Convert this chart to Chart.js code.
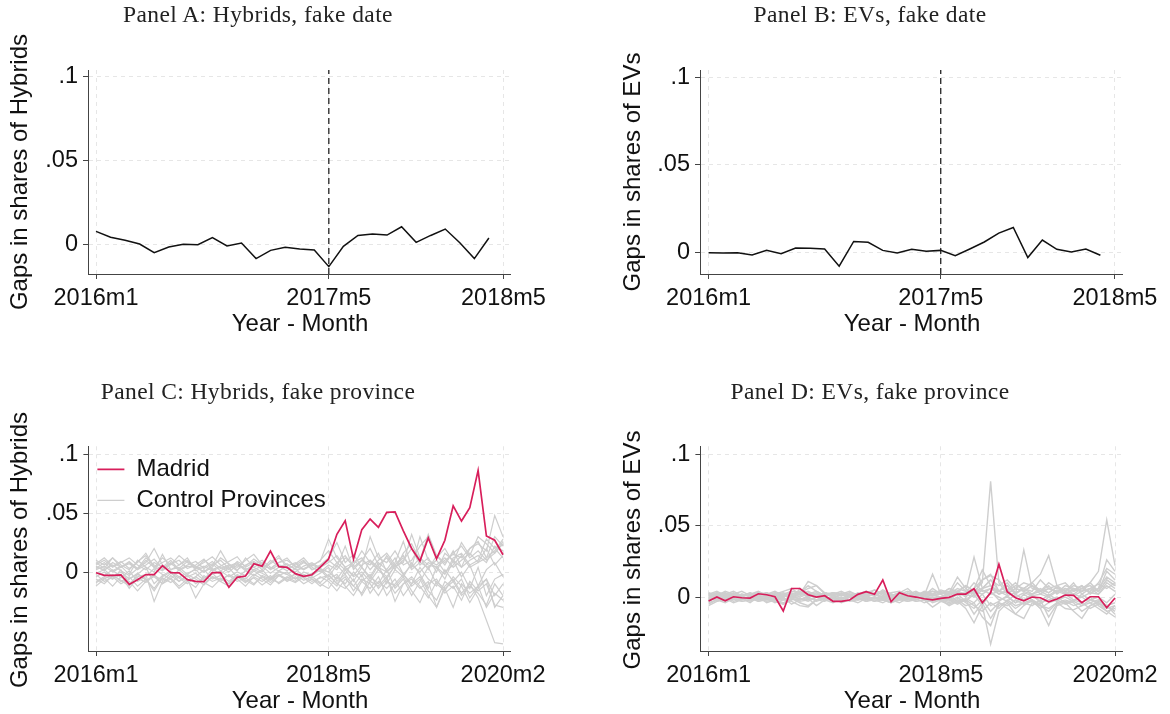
<!DOCTYPE html>
<html><head><meta charset="utf-8">
<script src="https://cdn.jsdelivr.net/npm/chart.js@4"></script>
<style>
html,body{margin:0;padding:0;background:#fff;}
#wrap{position:relative;width:1170px;height:714px;overflow:hidden;background:#fff;}
canvas{position:absolute;}
.t{position:absolute;white-space:nowrap;transform:translate(-50%,-50%);line-height:1;}
.title{font-family:'Liberation Serif','Times New Roman',serif;font-size:23.5px;letter-spacing:0.4px;color:#222;}
.ax{font-family:'Liberation Sans',Arial,sans-serif;font-size:24px;color:#111;}
.rot{transform:translate(-50%,-50%) rotate(-90deg);}
</style></head><body>
<div id="wrap">
<canvas id="cA"></canvas><canvas id="cB"></canvas><canvas id="cC"></canvas><canvas id="cD"></canvas>
<div class="t title" style="left:258px;top:15px">Panel A: Hybrids, fake date</div>
<div class="t title" style="left:870px;top:15px">Panel B: EVs, fake date</div>
<div class="t title" style="left:258px;top:392px">Panel C: Hybrids, fake province</div>
<div class="t title" style="left:870px;top:392px">Panel D: EVs, fake province</div>
<div class="t ax rot" style="left:19px;top:172px">Gaps in shares of Hybrids</div>
<div class="t ax rot" style="left:632px;top:172px">Gaps in shares of EVs</div>
<div class="t ax rot" style="left:19px;top:550px">Gaps in shares of Hybrids</div>
<div class="t ax rot" style="left:632px;top:550px">Gaps in shares of EVs</div>
<div class="t ax" style="left:300px;top:323px">Year - Month</div>
<div class="t ax" style="left:912px;top:323px">Year - Month</div>
<div class="t ax" style="left:300px;top:700px">Year - Month</div>
<div class="t ax" style="left:912px;top:700px">Year - Month</div>
</div>
<script>
// ---------------- DATA ----------------
const xTickLabelsAB = ['2016m1', '2017m5', '2018m5'];
const xTickLabelsCD = ['2016m1', '2018m5', '2020m2'];
const yTickValues = [0, 0.05, 0.1];
const yTickLabels = ['0', '.05', '.1'];
const fakeTreatmentMonth = '2017m5';

// Panel A: gap in hybrid share, monthly from 2016m1 (28 months)
const panelA_hybridGap = [0.0077, 0.0042, 0.0024, 0.0002, -0.0050, -0.0016, 0.0000, -0.0002, 0.0040, -0.0010,
  0.0008, -0.0085, -0.0036, -0.0018, -0.0028, -0.0034, -0.0133, -0.0012, 0.0053, 0.0061,
  0.0055, 0.0105, 0.0012, 0.0053, 0.0091, 0.0010, -0.0085, 0.0038];

// Panel B: gap in EV share, monthly from 2016m1 (28 months)
const panelB_evGap = [-0.0002, -0.0004, -0.0002, -0.0015, 0.0011, -0.0008, 0.0025, 0.0023, 0.0019, -0.0079,
  0.0062, 0.0057, 0.0011, -0.0004, 0.0017, 0.0006, 0.0011, -0.0019, 0.0019, 0.0059,
  0.0110, 0.0142, -0.0030, 0.0070, 0.0017, 0.0002, 0.0019, -0.0017];

// Panel C: Madrid hybrid gap, monthly from 2016m1 to 2020m2 (50 months)
const panelC_madrid = [-0.0006, -0.0028, -0.0028, -0.0025, -0.0105, -0.0065, -0.0022, -0.0022, 0.0054, -0.0006,
  -0.0008, -0.0065, -0.0079, -0.0082, -0.0006, -0.0006, -0.0130, -0.0045, -0.0034, 0.0070,
  0.0050, 0.0178, 0.0045, 0.0040, -0.0014, -0.0037, -0.0023, 0.0042, 0.0110, 0.0320,
  0.0436, 0.0110, 0.0360, 0.0450, 0.0380, 0.0507, 0.0510, 0.0350, 0.0200, 0.0093,
  0.0290, 0.0113, 0.0270, 0.0563, 0.0433, 0.0546, 0.0863, 0.0306, 0.0270, 0.0147];

// Panel C: control provinces (placebo gaps)
const panelC_controls = [
 [0.004, 0.002, 0.006, 0.001, -0.003, 0.003, 0.008, 0.020, 0.006, 0.002,
  0.004, -0.002, 0.003, 0.005, 0.001, 0.004, 0.000, 0.006, 0.003, 0.002,
  0.005, -0.001, 0.004, 0.007, 0.002, 0.003, 0.006, 0.009, 0.028, 0.012,
  0.004, -0.003, 0.006, 0.010, 0.002, -0.004, 0.005, 0.008, 0.032, 0.012,
  0.006, 0.004, 0.010, 0.015, 0.012, 0.020, 0.024, 0.018, 0.048, 0.030],
 [-0.008, -0.004, -0.006, 0.002, -0.010, -0.004, -0.002, -0.025, -0.008, -0.005,
  -0.012, -0.006, -0.022, -0.010, -0.004, -0.006, -0.003, -0.008, -0.005, -0.010,
  -0.004, -0.007, -0.002, -0.006, -0.009, -0.004, -0.008, -0.005, -0.003, -0.010,
  -0.014, -0.006, -0.020, -0.008, -0.012, -0.004, -0.025, -0.010, -0.006, -0.014,
  -0.008, -0.030, -0.012, -0.006, -0.018, -0.010, -0.022, -0.041, -0.060, -0.061],
 [0.010, 0.006, 0.012, 0.004, 0.008, 0.002, 0.010, 0.004, 0.012, 0.006,
  0.014, 0.008, 0.003, 0.010, 0.005, 0.018, 0.006, 0.004, 0.010, 0.015,
  0.006, 0.003, 0.008, 0.012, 0.004, 0.009, 0.002, 0.006, 0.012, 0.025,
  0.008, 0.015, 0.004, 0.030, 0.012, 0.008, 0.018, 0.006, 0.010, 0.022,
  0.030, 0.012, 0.020, 0.008, 0.025, 0.014, 0.030, 0.024, 0.016, 0.026],
 [0.000, -0.003, 0.002, -0.005, 0.001, -0.008, -0.004, 0.003, -0.002, -0.006,
  0.002, -0.004, -0.001, -0.007, 0.003, -0.002, 0.004, -0.005, 0.001, -0.003,
  0.002, -0.006, 0.000, -0.002, 0.003, -0.004, -0.001, 0.002, -0.006, -0.012,
  0.002, -0.008, 0.004, -0.006, 0.006, -0.010, 0.002, -0.004, 0.008, -0.002,
  -0.014, 0.004, -0.006, 0.010, -0.004, 0.006, -0.012, 0.002, 0.008, -0.004],
 [0.006, 0.010, 0.004, 0.008, 0.012, 0.006, 0.002, 0.008, 0.004, 0.010,
  0.002, 0.006, 0.009, 0.003, 0.007, 0.001, 0.005, 0.008, 0.002, 0.006,
  0.010, 0.004, 0.001, 0.005, 0.008, 0.002, 0.006, 0.003, -0.004, 0.006,
  -0.002, 0.010, 0.004, -0.004, 0.008, 0.002, 0.012, -0.002, 0.006, 0.000,
  0.008, 0.004, -0.002, 0.012, 0.016, 0.006, 0.010, 0.028, 0.020, 0.012],
 [-0.012, -0.006, -0.002, -0.008, -0.004, -0.012, -0.006, -0.014, -0.004, 0.000,
  -0.008, -0.003, -0.010, -0.005, -0.001, -0.008, -0.012, -0.004, -0.009, -0.002,
  -0.006, -0.011, -0.003, -0.007, -0.001, -0.005, -0.010, -0.004, -0.008, -0.016,
  -0.006, -0.012, -0.002, -0.018, -0.008, -0.014, -0.006, -0.020, -0.010, -0.004,
  -0.016, -0.024, -0.008, -0.014, -0.006, -0.022, -0.012, -0.030, -0.018, -0.024],
 [0.003, 0.008, 0.001, 0.005, -0.002, 0.010, 0.004, 0.000, 0.015, 0.002,
  0.006, 0.012, 0.001, 0.004, 0.009, 0.003, 0.006, 0.001, 0.012, 0.004,
  0.000, 0.008, 0.014, 0.003, 0.006, 0.010, 0.002, 0.005, 0.010, 0.004,
  0.022, 0.002, 0.010, 0.006, 0.016, 0.000, 0.008, 0.026, 0.004, 0.012,
  0.002, 0.014, 0.006, 0.018, 0.004, 0.010, 0.014, 0.008, 0.022, 0.018],
 [-0.004, 0.000, -0.006, -0.002, -0.014, -0.005, -0.009, -0.003, -0.007, -0.001,
  -0.005, -0.010, -0.004, 0.002, -0.006, -0.003, -0.008, -0.002, -0.006, 0.001,
  -0.004, -0.009, -0.003, 0.000, -0.006, -0.002, -0.005, -0.001, 0.004, -0.008,
  -0.002, -0.012, -0.018, -0.004, -0.010, 0.002, -0.014, -0.006, -0.020, -0.008,
  0.004, -0.010, -0.016, -0.004, -0.012, -0.026, -0.014, -0.006, -0.020, -0.010],
 [0.008, 0.003, 0.012, 0.006, 0.002, 0.009, 0.014, 0.004, 0.001, 0.007,
  0.010, 0.003, 0.006, 0.011, 0.002, 0.005, 0.009, 0.013, 0.004, 0.008,
  0.002, 0.010, 0.005, 0.001, 0.007, 0.012, 0.004, 0.000, 0.006, 0.002,
  0.012, 0.006, 0.018, 0.008, 0.002, 0.014, 0.004, 0.010, 0.020, 0.006,
  0.012, 0.000, 0.016, 0.010, 0.004, 0.020, 0.026, 0.012, 0.018, 0.028],
 [-0.002, -0.008, -0.004, -0.010, -0.006, -0.001, -0.007, -0.004, -0.010, -0.003,
  -0.008, -0.002, -0.006, -0.011, -0.004, -0.008, -0.002, -0.006, -0.012, -0.004,
  -0.008, -0.003, -0.010, -0.005, -0.002, -0.007, -0.004, -0.009, -0.002, -0.010,
  -0.004, -0.016, -0.006, -0.010, -0.020, -0.008, -0.012, -0.004, -0.016, -0.026,
  -0.010, -0.006, -0.018, -0.012, -0.024, -0.008, -0.016, -0.010, -0.028, -0.030],
 [0.002, 0.005, 0.000, 0.004, 0.007, 0.002, 0.006, 0.011, 0.003, 0.008,
  0.001, 0.005, 0.004, 0.000, 0.006, 0.010, 0.003, 0.007, 0.001, 0.004,
  0.008, 0.002, 0.006, 0.004, 0.000, 0.005, 0.008, 0.003, 0.000, 0.008,
  0.002, 0.006, -0.004, 0.010, 0.004, 0.000, 0.006, 0.014, 0.002, 0.008,
  0.004, 0.010, 0.000, 0.006, 0.014, 0.004, 0.008, 0.012, 0.030, 0.022],
 [-0.006, -0.010, -0.003, -0.007, -0.012, -0.002, -0.006, -0.016, -0.005, -0.009,
  -0.004, -0.008, -0.013, -0.003, -0.008, -0.005, -0.010, -0.004, -0.007, -0.011,
  -0.003, -0.006, -0.009, -0.004, -0.008, -0.002, -0.006, -0.010, -0.014, -0.004,
  -0.010, 0.000, -0.008, -0.014, -0.004, -0.020, -0.010, -0.002, -0.012, -0.006,
  -0.020, -0.030, -0.014, -0.008, -0.020, -0.012, -0.018, -0.028, -0.010, -0.020],
 [0.005, 0.001, 0.008, 0.004, 0.009, 0.003, 0.012, 0.006, 0.002, 0.007,
  0.003, 0.009, 0.005, 0.000, 0.004, 0.012, 0.007, 0.002, 0.006, 0.009,
  0.004, 0.007, 0.012, 0.006, 0.003, 0.008, 0.005, 0.010, 0.018, 0.008,
  0.014, 0.004, 0.010, 0.020, 0.006, 0.012, 0.002, 0.016, 0.024, 0.010,
  0.032, 0.014, 0.008, 0.016, 0.022, 0.012, 0.018, 0.010, 0.016, 0.024],
 [-0.001, 0.002, -0.004, 0.000, -0.006, -0.002, 0.004, -0.010, -0.003, 0.001,
  -0.004, -0.001, 0.002, -0.005, -0.002, 0.001, -0.004, 0.000, -0.003, 0.002,
  -0.001, -0.005, 0.001, -0.002, -0.006, 0.000, -0.003, 0.002, 0.000, -0.006,
  0.004, -0.004, 0.000, -0.008, 0.002, -0.006, 0.006, -0.002, -0.010, 0.004,
  -0.006, -0.012, 0.002, -0.008, 0.000, -0.014, 0.004, -0.020, -0.006, -0.002],
 [0.007, 0.012, 0.005, 0.009, 0.003, 0.008, 0.016, 0.004, 0.008, 0.012,
  0.006, 0.010, 0.004, 0.008, 0.013, 0.006, 0.002, 0.009, 0.005, 0.011,
  0.006, 0.003, 0.008, 0.010, 0.005, 0.002, 0.007, 0.004, 0.008, 0.014,
  0.004, 0.008, 0.012, 0.002, 0.010, 0.016, 0.006, 0.012, 0.004, 0.030,
  0.010, 0.006, 0.012, 0.004, 0.010, 0.016, 0.008, 0.020, 0.006, 0.014],
 [-0.009, -0.005, -0.012, -0.004, -0.008, -0.016, -0.008, -0.002, -0.010, -0.006,
  -0.014, -0.008, -0.004, -0.009, -0.013, -0.006, -0.010, -0.003, -0.008, -0.005,
  -0.011, -0.006, -0.002, -0.008, -0.004, -0.010, -0.006, -0.012, -0.006, -0.002,
  -0.012, -0.020, -0.008, -0.002, -0.014, -0.006, -0.018, -0.010, -0.004, -0.012,
  -0.022, -0.008, -0.014, -0.030, -0.010, -0.018, -0.012, -0.006, -0.030, -0.020]
];

// Panel D: Madrid EV gap, monthly from 2016m1 to 2020m2 (50 months)
const panelD_madrid = [-0.0028, 0.0000, -0.0026, 0.0002, -0.0005, -0.0007, 0.0023, 0.0016, 0.0002, -0.0098,
  0.0060, 0.0060, 0.0016, 0.0000, 0.0009, -0.0030, -0.0030, -0.0021, 0.0019, 0.0037,
  0.0019, 0.0119, -0.0033, 0.0030, 0.0009, 0.0000, -0.0012, -0.0020, -0.0009, -0.0002,
  0.0021, 0.0021, 0.0058, -0.0040, 0.0030, 0.0230, 0.0037, -0.0005, -0.0026, 0.0000,
  -0.0005, -0.0033, -0.0014, 0.0014, 0.0012, -0.0040, 0.0002, 0.0002, -0.0075, -0.0007];

// Panel D: control provinces (placebo gaps)
const panelD_controls = [
 [0.002, 0.000, 0.003, -0.001, 0.002, 0.001, -0.002, 0.003, 0.000, 0.002,
  -0.001, 0.004, 0.002, 0.000, 0.003, 0.001, -0.001, 0.002, 0.000, 0.003,
  0.001, 0.004, -0.001, 0.002, 0.000, 0.003, 0.001, 0.004, 0.002, 0.006,
  0.003, 0.008, 0.004, 0.010, 0.081, 0.010, 0.002, 0.006, 0.004, 0.008,
  0.002, 0.006, 0.004, 0.002, 0.006, 0.004, 0.010, 0.018, 0.054, 0.022],
 [-0.004, -0.002, 0.000, -0.003, -0.001, -0.004, 0.000, -0.002, -0.003, -0.005,
  -0.001, -0.004, -0.006, -0.002, -0.003, 0.000, -0.004, -0.002, -0.001, -0.003,
  0.000, -0.002, -0.004, -0.001, -0.003, -0.002, 0.000, -0.004, -0.002, -0.006,
  -0.003, -0.008, -0.018, -0.006, -0.033, -0.010, -0.004, -0.012, -0.006, -0.002,
  -0.008, -0.020, -0.006, -0.004, -0.010, -0.015, -0.006, -0.004, -0.010, -0.014],
 [0.001, 0.003, 0.000, 0.002, 0.004, 0.001, 0.003, 0.000, 0.002, 0.004,
  0.006, 0.002, 0.011, 0.008, 0.002, 0.001, 0.003, 0.000, 0.002, 0.004,
  0.001, 0.005, 0.002, 0.000, 0.003, 0.001, 0.004, 0.002, 0.004, 0.002,
  0.010, 0.004, 0.028, 0.006, 0.012, 0.004, 0.008, 0.002, 0.033, 0.006,
  0.004, 0.008, 0.002, 0.006, 0.004, 0.008, 0.002, 0.006, 0.026, 0.018],
 [-0.002, 0.001, -0.001, 0.002, 0.000, -0.002, 0.001, 0.003, -0.001, 0.000,
  0.002, -0.002, 0.001, 0.003, 0.000, -0.001, 0.002, 0.001, -0.002, 0.000,
  0.002, -0.001, 0.001, 0.003, 0.000, -0.002, 0.001, 0.016, 0.002, -0.002,
  0.004, 0.000, 0.006, 0.012, 0.016, 0.004, 0.008, 0.002, 0.006, 0.010,
  0.016, 0.029, 0.008, 0.004, 0.010, 0.002, 0.006, 0.004, 0.012, 0.008],
 [0.000, -0.003, -0.001, -0.004, -0.002, 0.000, -0.003, -0.001, -0.004, -0.002,
  -0.003, -0.006, -0.007, -0.002, -0.001, -0.003, 0.000, -0.002, -0.004, -0.001,
  -0.003, 0.000, -0.002, -0.004, -0.001, -0.003, -0.002, -0.007, -0.003, -0.005,
  -0.002, -0.006, -0.004, -0.014, -0.020, -0.004, -0.008, -0.012, -0.015, -0.004,
  -0.006, -0.010, -0.004, -0.008, -0.009, -0.006, -0.004, -0.008, -0.012, -0.006],
 [0.003, 0.001, 0.004, 0.002, 0.000, 0.003, 0.001, 0.002, 0.004, 0.001,
  0.003, 0.000, 0.002, 0.004, 0.001, 0.003, 0.002, 0.000, 0.003, 0.001,
  0.005, 0.002, 0.000, 0.003, 0.006, 0.001, 0.003, 0.002, 0.005, 0.003,
  0.014, 0.006, 0.002, 0.012, 0.015, 0.012, 0.004, 0.008, 0.006, 0.010,
  0.004, 0.006, 0.008, 0.010, 0.004, 0.006, 0.008, 0.004, 0.018, 0.012],
 [-0.006, -0.003, -0.001, -0.002, 0.000, -0.001, -0.003, -0.002, 0.000, -0.001,
  -0.002, 0.006, -0.001, -0.002, 0.000, -0.001, -0.003, 0.000, -0.002, -0.001,
  0.000, -0.002, -0.001, 0.000, -0.002, 0.000, -0.001, 0.000, -0.002, -0.004,
  -0.001, -0.003, 0.002, -0.006, 0.004, -0.002, 0.000, -0.004, 0.002, -0.002,
  -0.005, 0.000, -0.003, 0.002, -0.002, -0.004, 0.000, -0.006, -0.010, -0.008],
 [0.001, 0.002, 0.003, 0.001, 0.002, 0.000, 0.002, 0.003, 0.001, 0.002,
  0.000, 0.001, 0.003, 0.002, 0.001, 0.002, 0.004, 0.001, 0.002, 0.000,
  0.002, 0.003, 0.001, 0.002, 0.001, 0.003, 0.002, 0.001, 0.002, 0.004,
  0.002, 0.003, 0.010, 0.004, 0.006, 0.002, 0.005, 0.010, 0.004, 0.002,
  0.006, 0.003, 0.007, 0.002, 0.005, 0.008, 0.003, 0.006, 0.014, 0.010],
 [-0.001, -0.002, 0.000, -0.001, -0.003, -0.002, 0.000, -0.004, -0.002, -0.005,
  -0.002, -0.001, -0.003, 0.000, -0.002, -0.001, -0.003, -0.002, 0.000, -0.003,
  -0.001, -0.002, -0.004, -0.002, -0.001, -0.003, -0.002, -0.003, -0.001, -0.002,
  -0.005, -0.002, -0.012, -0.004, -0.015, -0.006, -0.003, -0.008, -0.004, -0.006,
  -0.002, -0.014, -0.005, -0.003, -0.006, -0.004, -0.008, -0.005, -0.006, -0.012],
 [0.002, 0.004, 0.001, 0.003, 0.000, 0.002, 0.004, 0.001, 0.003, 0.002,
  0.004, 0.003, 0.008, 0.004, 0.001, 0.003, 0.002, 0.004, 0.001, 0.003,
  0.005, 0.001, 0.003, 0.004, 0.002, 0.004, 0.001, 0.006, 0.002, 0.006,
  0.004, 0.008, 0.004, 0.006, 0.012, 0.008, 0.012, 0.006, 0.010, 0.008,
  0.004, 0.010, 0.006, 0.004, 0.008, 0.006, 0.004, 0.010, 0.020, 0.016],
 [-0.003, 0.000, -0.002, 0.001, -0.001, -0.003, 0.000, -0.001, -0.002, 0.001,
  -0.001, -0.002, 0.000, -0.003, -0.001, 0.000, -0.002, 0.001, -0.001, -0.002,
  0.000, -0.001, 0.001, -0.002, 0.000, -0.001, 0.001, -0.002, 0.000, 0.001,
  -0.003, -0.001, -0.004, 0.002, -0.006, -0.003, 0.001, -0.004, -0.002, 0.002,
  -0.004, -0.002, 0.000, -0.004, -0.002, 0.000, -0.004, -0.002, -0.006, -0.004],
 [0.000, 0.001, 0.002, 0.000, 0.001, 0.002, 0.000, 0.001, 0.003, 0.000,
  0.002, 0.004, 0.000, 0.001, 0.002, 0.000, 0.001, 0.002, 0.000, 0.001,
  0.003, 0.000, 0.002, 0.001, 0.000, 0.002, 0.001, 0.002, 0.000, 0.002,
  0.004, 0.001, 0.006, 0.019, 0.008, 0.002, 0.004, 0.000, 0.003, 0.001,
  0.002, 0.000, 0.004, 0.006, 0.002, 0.000, 0.003, 0.002, 0.008, 0.004],
 [-0.002, -0.001, -0.003, -0.001, -0.002, 0.000, -0.002, -0.001, -0.003, 0.000,
  -0.005, -0.002, -0.001, -0.006, -0.002, -0.001, -0.002, 0.000, -0.001, -0.003,
  -0.002, -0.004, -0.001, -0.002, -0.003, -0.001, -0.004, -0.002, -0.001, -0.003,
  0.000, -0.004, -0.008, -0.002, -0.010, -0.004, -0.006, -0.002, -0.005, -0.003,
  -0.008, -0.004, -0.002, -0.005, -0.003, -0.006, -0.002, -0.004, -0.008, -0.006],
 [0.001, 0.003, 0.002, 0.004, 0.001, 0.002, 0.003, 0.001, 0.002, 0.003,
  0.001, 0.002, 0.004, 0.001, 0.003, 0.002, 0.001, 0.003, 0.002, 0.004,
  0.002, 0.003, 0.001, 0.002, 0.004, 0.002, 0.003, 0.004, 0.003, 0.002,
  0.006, 0.004, 0.002, 0.006, 0.008, 0.004, 0.003, 0.006, 0.004, 0.008,
  0.005, 0.003, 0.007, 0.004, 0.002, 0.006, 0.010, 0.004, 0.012, 0.008],
 [-0.005, -0.002, -0.004, -0.001, -0.003, -0.002, -0.001, -0.003, -0.002, -0.004,
  -0.001, -0.003, -0.002, 0.000, -0.002, -0.004, -0.001, -0.003, -0.002, -0.001,
  -0.003, -0.002, -0.003, -0.001, -0.002, 0.000, -0.002, -0.001, -0.003, -0.001,
  -0.004, -0.002, -0.006, -0.010, -0.004, -0.008, -0.002, -0.006, -0.004, -0.002,
  -0.006, -0.008, -0.004, -0.002, -0.004, -0.010, -0.006, -0.003, -0.006, -0.010],
 [0.000, 0.002, 0.001, 0.000, 0.002, 0.001, 0.003, 0.002, 0.001, 0.000,
  0.002, 0.003, 0.006, 0.008, 0.003, 0.001, 0.002, 0.000, 0.001, 0.002,
  0.001, 0.004, 0.002, 0.000, 0.001, 0.002, 0.000, 0.001, 0.000, 0.003,
  0.001, 0.002, 0.004, 0.002, 0.006, 0.004, 0.010, 0.003, 0.006, 0.004,
  0.012, 0.006, 0.003, 0.008, 0.006, 0.004, 0.006, 0.009, 0.006, 0.010],
 [-0.001, 0.000, -0.002, 0.000, -0.001, 0.000, -0.002, 0.000, -0.001, -0.002,
  0.000, -0.001, -0.002, 0.000, -0.001, 0.000, -0.002, 0.000, -0.001, 0.000,
  -0.001, -0.002, 0.000, -0.001, 0.000, -0.001, 0.000, -0.001, 0.000, -0.002,
  0.002, -0.003, 0.004, -0.004, 0.003, 0.000, -0.003, 0.002, -0.002, 0.001,
  -0.003, 0.002, -0.002, 0.000, -0.003, 0.002, -0.002, 0.000, -0.004, 0.002],
 [0.002, 0.001, 0.000, 0.002, 0.001, 0.003, 0.000, 0.001, 0.002, 0.001,
  0.000, 0.002, 0.001, 0.000, 0.002, 0.003, 0.001, 0.002, 0.000, 0.001,
  0.002, 0.000, 0.001, 0.003, 0.001, 0.000, 0.002, 0.001, 0.003, 0.001,
  0.004, 0.002, 0.000, 0.005, 0.002, 0.004, 0.001, 0.003, 0.006, 0.002,
  0.004, 0.001, 0.005, 0.003, 0.001, 0.004, 0.006, 0.002, 0.010, 0.006]
];

// ---------------- RENDERING ----------------
const FONT = "'Liberation Sans', Arial, sans-serif";
const MADRID_COLOR = '#d81e5b';
const CONTROL_COLOR = 'rgb(206,206,206)';
const Y_AXIS_W = 60, X_AXIS_H = 40, PW = 585, PH = 357;

function monthIndex(lbl) { const p = lbl.split('m'); return (Number(p[0]) - 2016) * 12 + Number(p[1]) - 1; }
function toPoints(vals) { return vals.map((v, i) => ({x: i, y: v})); }

const legendInArea = {
  id: 'legendInArea',
  afterLayout(chart) {
    const l = chart.legend;
    if (l && l.options.display && l.options.position === 'chartArea') {
      const a = chart.chartArea;
      l.left = a.left + 2; l.top = a.top + 4; l.right = a.right; l.bottom = a.bottom;
    }
  }
};

function makePanel(id, g, xTicks, datasets, legend) {
  const cv = document.getElementById(id);
  cv.width = PW; cv.height = PH;
  cv.style.left = g.cx + 'px'; cv.style.top = g.cy + 'px';
  const pad = {left: g.l - g.cx - Y_AXIS_W, top: g.t - g.cy, right: g.cx + PW - g.r, bottom: g.cy + PH - g.b - X_AXIS_H};
  const xTickVals = xTicks.map(monthIndex);
  const gridOpts = {color: '#e6e6e6', lineWidth: 1, tickLength: 5, tickColor: '#444', tickWidth: 1};
  const borderOpts = {display: true, color: '#444', width: 1, dash: [4, 4]};
  new Chart(cv, {
    type: 'line',
    data: {datasets: datasets},
    options: {
      responsive: false, animation: false, devicePixelRatio: 1,
      layout: {padding: pad},
      elements: {point: {radius: 0, hoverRadius: 0}, line: {tension: 0}},
      plugins: {legend: legend || {display: false}, tooltip: {enabled: false}, title: {display: false}},
      scales: {
        x: {
          type: 'linear', min: g.xMin, max: g.xMax,
          afterBuildTicks: s => { s.ticks = xTickVals.map(v => ({value: v})); },
          afterFit: s => { s.height = X_AXIS_H; s.paddingLeft = 0; s.paddingRight = 0; },
          ticks: {autoSkip: false, maxRotation: 0, minRotation: 0, padding: 5, color: '#111',
                  font: {family: FONT, size: 23.5},
                  callback: v => { const k = xTickVals.indexOf(v); return k >= 0 ? xTicks[k] : ''; }},
          grid: gridOpts, border: borderOpts
        },
        y: {
          type: 'linear', min: g.yMin, max: g.yMax,
          afterBuildTicks: s => { s.ticks = yTickValues.map(v => ({value: v})); },
          afterFit: s => { s.width = Y_AXIS_W; s.paddingTop = 0; s.paddingBottom = 0; },
          ticks: {autoSkip: false, padding: 5, color: '#111', font: {family: FONT, size: 23.5},
                  callback: v => { const k = yTickValues.indexOf(v); return k >= 0 ? yTickLabels[k] : ''; }},
          grid: gridOpts, border: borderOpts
        }
      }
    },
    plugins: [legendInArea]
  });
}

function dateChartSets(values, g) {
  const t = monthIndex(fakeTreatmentMonth);
  return [
    {label: 'Gap', data: toPoints(values), borderColor: '#111', borderWidth: 1.5, fill: false},
    {label: 'Fake date', data: [{x: t, y: g.yMin}, {x: t, y: g.yMax}], borderColor: '#111', borderWidth: 1.2, borderDash: [6, 4], fill: false}
  ];
}

function provinceSets(madrid, controls, width) {
  const sets = [{label: 'Madrid', data: toPoints(madrid), borderColor: MADRID_COLOR, borderWidth: 1.7, fill: false, order: 0}];
  controls.forEach(c => sets.push({label: 'Control Provinces', data: toPoints(c), borderColor: CONTROL_COLOR, borderWidth: width, fill: false, order: 1}));
  return sets;
}

const gA = {cx: 0, cy: 0, l: 88, t: 70, r: 510, b: 274, xMin: -0.55, xMax: 28.45, yMin: -0.0177, yMax: 0.104};
const gB = {cx: 585, cy: 0, l: 700, t: 70, r: 1122, b: 274, xMin: -0.59, xMax: 28.49, yMin: -0.0124, yMax: 0.1042};
const gC = {cx: 0, cy: 357, l: 88.4, t: 446.3, r: 510, b: 651, xMin: -0.915, xMax: 49.84, yMin: -0.0671, yMax: 0.1068};
const gD = {cx: 585, cy: 357, l: 700.4, t: 446.3, r: 1122.5, b: 651, xMin: -0.99, xMax: 49.9, yMin: -0.0378, yMax: 0.1056};

makePanel('cA', gA, xTickLabelsAB, dateChartSets(panelA_hybridGap, gA));
makePanel('cB', gB, xTickLabelsAB, dateChartSets(panelB_evGap, gB));
makePanel('cC', gC, xTickLabelsCD, provinceSets(panelC_madrid, panelC_controls, 1.2), {
  display: true, position: 'chartArea', align: 'start',
  labels: {usePointStyle: true, pointStyle: 'line', pointStyleWidth: 27, boxHeight: 24, padding: 7, color: '#111',
           font: {family: FONT, size: 24}, filter: item => item.datasetIndex < 2}
});
makePanel('cD', gD, xTickLabelsCD, provinceSets(panelD_madrid, panelD_controls, 1.4));
</script>
</body></html>
